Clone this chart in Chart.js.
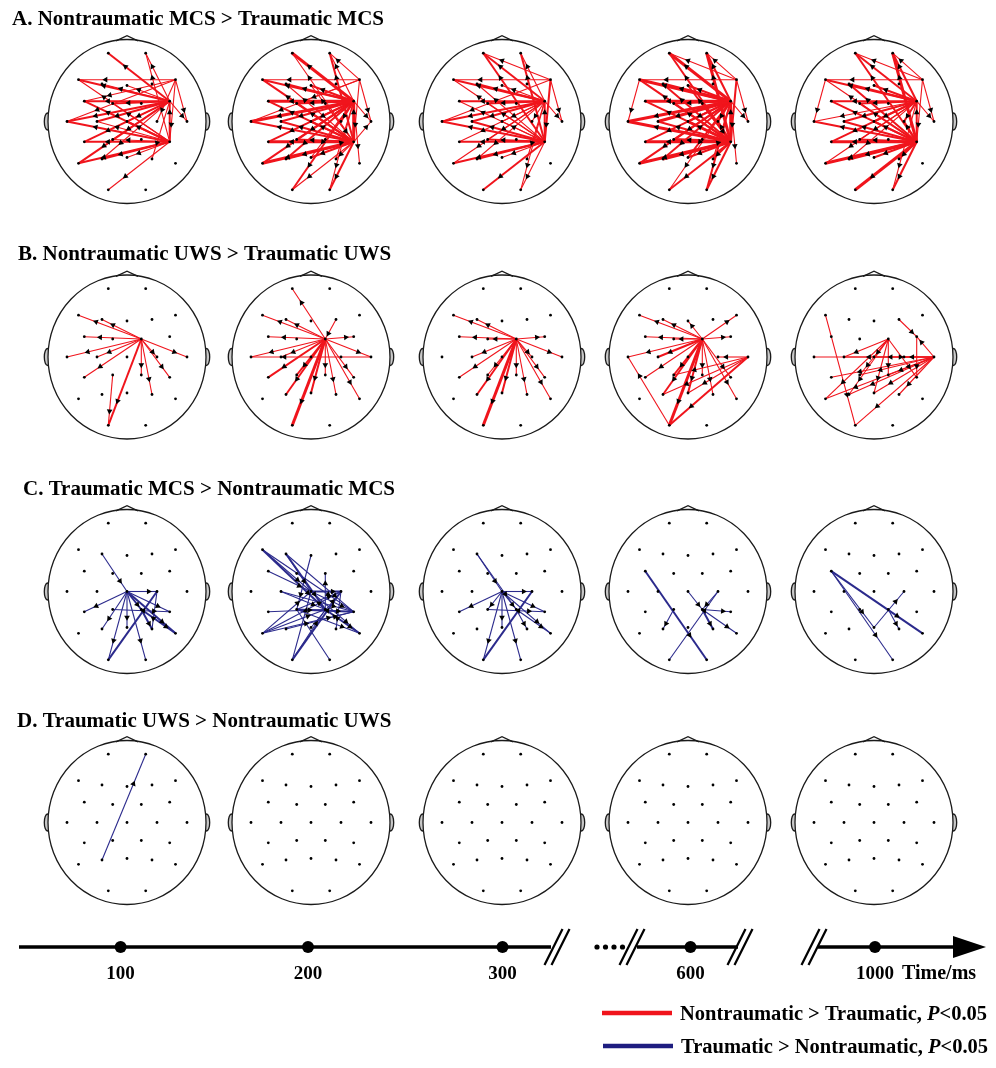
<!DOCTYPE html>
<html>
<head>
<meta charset="utf-8">
<script src="https://cdn.jsdelivr.net/npm/chart.js@4.4.0/dist/chart.umd.min.js"></script>
<style>
  html, body { margin: 0; padding: 0; background: #fff; }
  #wrap { position: relative; width: 996px; height: 1068px; }
</style>
</head>
<body>
<div id="wrap"><canvas id="myChart"></canvas></div>
<script>
// electrode montage, offset from the head centre
var electrodes = ['Fp1','Fp2','F7','F3','Fz','F4','F8','FC3','FC1','FC2','FC4','T3','C3','Cz','C4','T4',
                  'CP3','CP1','CP2','CP4','T5','P3','Pz','P4','T6','O1','O2'];
var elecX = [-18.7, 18.7, -48.5, -25, 0, 25, 48.5, -42.7, -14.3, 14.3, 42.7, -60, -30, 0, 30, 60,
             -42.7, -14.3, 14.3, 42.7, -48.5, -25, 0, 25, 48.5, -18.7, 18.7];
var elecY = [-68.3, -68.3, -41.8, -37.5, -36, -37.5, -41.8, -20.3, -18, -18, -20.3, 0, 0, 0, 0, 0,
             20.3, 18, 18, 20.3, 41.8, 37.5, 36, 37.5, 41.8, 68.3, 68.3];

var panelTitles = ['A. Nontraumatic MCS > Traumatic MCS', 'B. Nontraumatic UWS > Traumatic UWS',
                   'C. Traumatic MCS > Nontraumatic MCS', 'D. Traumatic UWS > Nontraumatic UWS'];
var timeLabels = ['100', '200', '300', '600', '1000'];
var legendLabels = ['Nontraumatic > Traumatic, ', 'Traumatic > Nontraumatic, '];
var pLabel = ['P', '<0.05'];

// significant connections: [from, to, strength 1-3]
var a100 = [['FC4','Fp1',2],['CP4','Fp2',1],['FC4','Fp2',1],['FC4','F7',2],['CP4','F7',1],['F8','F7',1],
  ['FC4','F3',1],['F8','FC3',1],['FC4','FC3',2],['CP4','FC3',2],['FC4','FC1',2],['CP4','FC1',1],['FC4','Fz',1],
  ['FC4','T3',2],['CP4','T3',2],['F8','T3',1],['FC4','C3',2],['CP4','C3',1],['FC4','Cz',1],['CP4','Cz',2],
  ['FC4','CP3',2],['CP4','CP3',2],['FC4','CP1',1],['CP4','CP1',1],['FC4','T5',2],['CP4','T5',2],['CP4','P3',2],
  ['FC4','P3',1],['CP4','Pz',1],['FC4','P4',1],['CP4','O1',1],['F8','T4',1],['FC4','T4',1],['F8','C4',1],
  ['CP4','FC4',2],['F8','CP4',1]];
var a200 = [['FC4','Fp1',3],['CP4','Fp1',1],['CP4','Fp2',2],['FC4','Fp2',1],['F8','Fp2',1],['FC4','F7',2],
  ['CP4','F7',2],['F8','F7',1],['FC4','F3',2],['CP4','F3',1],['FC4','Fz',2],['CP4','Fz',1],['FC4','FC3',3],
  ['CP4','FC3',2],['FC4','FC1',2],['CP4','FC1',2],['F8','FC1',1],['FC4','T3',3],['CP4','T3',2],['F8','T3',1],
  ['FC4','C3',2],['CP4','C3',2],['FC4','Cz',2],['CP4','Cz',2],['FC4','CP3',2],['CP4','CP3',3],['FC4','CP1',2],
  ['CP4','CP1',2],['FC4','T5',2],['CP4','T5',3],['FC4','P3',2],['CP4','P3',2],['CP4','Pz',2],['FC4','Pz',1],
  ['FC4','P4',1],['CP4','P4',1],['FC4','O1',2],['CP4','O1',1],['CP4','O2',2],['FC4','O2',1],['F8','T4',1],
  ['FC4','T4',1],['CP4','T4',1],['FC4','C4',2],['CP4','FC4',3],['FC4','T6',1],['F8','CP4',1],['FC2','CP4',1]];
var a300 = [['FC4','Fp1',2],['CP4','Fp1',2],['F8','Fp1',1],['CP4','Fp2',2],['FC4','Fp2',1],['FC4','F7',2],
  ['CP4','F7',1],['F8','F7',1],['FC4','F3',2],['CP4','F3',1],['FC4','Fz',1],['FC4','FC3',2],['CP4','FC3',1],
  ['FC4','FC1',2],['CP4','FC1',1],['FC4','T3',2],['CP4','T3',2],['F8','T3',1],['FC4','C3',2],['CP4','C3',2],
  ['FC4','Cz',1],['CP4','Cz',1],['FC4','CP3',1],['CP4','CP3',2],['CP4','CP1',2],['FC4','CP1',1],['CP4','T5',2],
  ['FC4','T5',1],['CP4','P3',2],['FC4','P3',1],['CP4','Pz',1],['FC4','P4',1],['CP4','O1',2],['FC4','O2',1],
  ['CP4','O2',1],['F8','T4',1],['FC4','T4',1],['F8','CP4',2],['CP4','FC4',2],['FC4','C4',1]];
var a600 = [['FC4','Fp1',3],['CP4','Fp1',2],['F8','Fp1',1],['CP4','Fp2',3],['FC4','Fp2',2],['F8','Fp2',1],
  ['FC4','F7',3],['CP4','F7',2],['F8','F7',1],['FC4','F3',3],['CP4','F3',2],['FC4','Fz',2],['CP4','Fz',2],
  ['FC4','FC3',3],['CP4','FC3',2],['FC4','FC1',2],['CP4','FC1',2],['FC4','T3',3],['CP4','T3',3],['F7','T3',1],
  ['FC4','C3',3],['CP4','C3',2],['FC4','Cz',2],['CP4','Cz',3],['FC4','CP3',2],['CP4','CP3',3],['FC4','CP1',2],
  ['CP4','CP1',3],['CP4','T5',3],['FC4','T5',2],['CP4','P3',3],['FC4','P3',2],['CP4','Pz',2],['FC4','Pz',2],
  ['CP4','P4',2],['FC4','P4',1],['CP4','O1',2],['FC4','O1',1],['CP4','O2',2],['FC4','O2',2],['F8','T4',1],
  ['FC4','T4',1],['F8','CP4',2],['CP4','FC4',3],['FC4','C4',2],['FC4','T6',1],['CP4','C4',2],['FC2','CP4',2]];
var a1000 = [['FC4','Fp1',2],['CP4','Fp1',2],['F8','Fp1',1],['CP4','Fp2',3],['FC4','Fp2',2],['F8','Fp2',1],
  ['FC4','F7',2],['CP4','F7',1],['F8','F7',1],['FC4','F3',2],['CP4','F3',2],['FC4','Fz',2],['FC4','FC3',2],
  ['CP4','FC3',2],['FC4','FC1',2],['CP4','FC1',2],['FC4','T3',1],['CP4','T3',2],['F7','T3',1],['FC4','C3',2],
  ['CP4','C3',2],['FC4','Cz',2],['CP4','Cz',2],['FC4','CP3',2],['CP4','CP3',3],['CP4','CP1',2],['FC4','CP1',1],
  ['CP4','T5',3],['FC4','T5',1],['CP4','P3',3],['FC4','P3',1],['CP4','Pz',2],['CP4','P4',2],['CP4','O1',3],
  ['FC4','O2',1],['CP4','O2',2],['F8','T4',1],['FC4','T4',1],['F8','CP4',1],['CP4','FC4',2],['FC4','C4',2],
  ['CP4','C4',2]];

var b100 = [['FC2','F7',1],['FC2','F3',1],['FC2','FC3',1],['FC2','T3',1],['FC2','C3',1],['FC2','CP3',1],
  ['FC2','O1',2],['CP1','O1',1],['FC2','CP2',1],['FC2','P4',1],['FC2','CP4',1],['FC2','T4',1],['FC2','C4',1]];
var b200 = [['FC2','Fp1',1],['FC2','F7',1],['FC2','F3',1],['FC2','FC3',1],['FC2','T3',1],['FC2','C3',1],
  ['FC2','CP3',2],['FC2','P3',2],['FC2','O1',3],['FC2','Pz',2],['FC2','CP2',1],['FC2','P4',1],['FC2','CP4',1],
  ['FC2','T6',1],['FC2','T4',1],['FC2','FC4',1],['F4','FC2',1],['T4','T3',1],['FC2','CP1',2]];
var b300 = [['FC2','F7',1],['FC2','F3',1],['FC2','FC3',1],['FC2','FC1',1],['FC2','FC4',1],['FC2','T4',1],
  ['FC2','C3',1],['FC2','CP3',1],['FC2','CP1',1],['FC2','P3',2],['FC2','O1',3],['FC2','Pz',2],['FC2','CP2',1],
  ['FC2','P4',1],['FC2','CP4',1],['FC2','T6',1],['FC2','C4',1]];
var b600 = [['FC2','F7',1],['FC2','F3',1],['FC2','FC3',1],['FC2','FC1',1],['FC2','Fz',1],['FC2','F8',1],
  ['FC2','FC4',1],['FC2','T3',1],['FC2','C3',2],['FC2','CP3',1],['FC2','P3',2],['FC2','O1',3],['FC2','CP1',2],
  ['FC2','Pz',2],['FC2','CP2',1],['FC2','P4',1],['FC2','CP4',1],['FC2','T6',1],['T4','CP1',1],['T4','Pz',1],
  ['T4','O1',2],['T4','C4',1],['O1','T3',1],['T4','P3',1]];
var b1000 = [['F7','O1',1],['T3','T4',1],['T4','C3',1],['T4','CP3',1],['T4','T5',1],['T4','CP1',1],
  ['T4','Pz',1],['T4','P4',1],['T4','CP2',1],['T4','Cz',1],['T4','C4',1],['T4','FC4',1],['T4','O1',1],
  ['T4','P3',1],['FC2','CP1',1],['FC2','CP2',1],['FC2','Pz',1],['FC2','P3',1],['FC2','C3',1],['FC2','T5',1],
  ['FC2','Cz',1],['F4','FC4',1],['FC4','CP4',1],['FC2','CP4',1]];

var c100 = [['F3','Cz',1],['Cz','C4',1],['Cz','CP3',1],['Cz','CP4',1],['Cz','T6',2],['Cz','O1',1],
  ['Cz','O2',1],['Cz','Pz',1],['Cz','CP2',2],['CP1','CP4',1],['CP2','T6',2],['O1','C4',2],['C4','P4',1],
  ['CP2','P4',2],['Cz','P3',1]];
var c200 = [['F7','Cz',1],['F7','CP2',2],['F7','CP4',1],['F3','CP2',2],['F3','CP4',1],['F3','Cz',1],
  ['Fz','CP1',1],['CP2','FC2',1],['FC3','Cz',1],['C3','CP2',1],['Cz','C4',2],['Cz','CP4',1],['CP3','CP2',1],
  ['T5','CP2',1],['T5','CP4',1],['T5','Cz',1],['P3','CP4',1],['O1','C4',2],['O1','Cz',1],['O1','CP2',1],
  ['O2','CP1',1],['CP1','CP4',2],['CP1','T6',1],['Cz','T6',1],['C4','P4',1],['CP2','T6',2],['Pz','C4',1],
  ['CP1','C4',1],['C3','CP4',1],['T5','C4',1]];
var c300 = [['F3','CP2',1],['F3','Cz',1],['Cz','C4',1],['Cz','CP3',1],['Cz','O1',1],['Cz','O2',1],
  ['Cz','Pz',1],['Cz','T6',1],['Cz','CP4',1],['CP1','CP4',1],['CP2','T6',1],['CP2','P4',1],['O1','C4',2],
  ['Cz','CP1',1],['Cz','CP2',1]];
var c600 = [['FC3','O2',2],['Cz','CP2',1],['O1','C4',1],['CP2','CP4',1],['CP2','T6',1],['CP2','P4',2],
  ['CP1','P3',1],['C4','CP2',1]];
var c1000 = [['FC3','O2',1],['FC3','T6',2],['FC3','Pz',1],['Pz','C4',1],['CP2','P4',1]];

var d100 = [['P3','Fp2',1]];
var d200 = [], d300 = [], d600 = [], d1000 = [];

var panels = [[a100, a200, a300, a600, a1000], [b100, b200, b300, b600, b1000],
              [c100, c200, c300, c600, c1000], [d100, d200, d300, d600, d1000]];
var panelColors = ['#f0141c', '#f0141c', '#2b2a8c', '#2b2a8c'];

// layout of the figure (canvas units)
var colX = [127, 311, 502, 688, 874];
var rowY = [121.5, 357, 591.5, 822.5];
var headRx = 79, headRy = 82;
var titlePos = [[12, 25], [18, 260], [23, 495], [17, 727]];
var timeY = 947;
var timeX = [120.6, 308, 502.5, 690.5, 875];
var strokeW = [0, 1.1, 2, 3];

function pos(r, h, name) {
  var i = electrodes.indexOf(name);
  return { x: colX[h] + elecX[i], y: rowY[r] + elecY[i] };
}

var datasets = [];
for (var r = 0; r < panels.length; r++) {
  for (var h = 0; h < panels[r].length; h++) {
    var dots = [];
    for (var k = 0; k < electrodes.length; k++) dots.push(pos(r, h, electrodes[k]));
    datasets.push({ data: dots, pointRadius: 1.4, pointBackgroundColor: '#000', pointBorderWidth: 0, order: 0 });

    var arrows = [], rot = [];
    panels[r][h].forEach(function(e) {
      var a = pos(r, h, e[0]), b = pos(r, h, e[1]);
      datasets.push({ data: [a, b], showLine: true, borderColor: panelColors[r], borderWidth: strokeW[e[2]],
                      pointRadius: 0, order: 3 - e[2] / 10 });
      arrows.push({ x: a.x + (b.x - a.x) * 0.72, y: a.y + (b.y - a.y) * 0.72 });
      rot.push(Math.atan2(b.x - a.x, -(b.y - a.y)) * 180 / Math.PI);
    });
    if (arrows.length) {
      datasets.push({ data: arrows, pointStyle: 'triangle', pointRotation: rot, pointRadius: 3.3,
                      pointBackgroundColor: '#000', pointBorderWidth: 0, order: 1 });
    }
  }
}
datasets.push({ data: timeX.map(function(x) { return { x: x, y: timeY }; }), pointRadius: 6,
                pointBackgroundColor: '#000', pointBorderWidth: 0, order: 0 });

var decor = {
  id: 'decor',
  beforeDatasetsDraw: function(chart) {
    var ctx = chart.ctx, xs = chart.scales.x, ys = chart.scales.y;
    ctx.save();
    ctx.strokeStyle = '#1a1a1a';
    ctx.lineWidth = 1.3;
    for (var r = 0; r < rowY.length; r++) {
      for (var h = 0; h < colX.length; h++) {
        var cx = xs.getPixelForValue(colX[h]), cy = ys.getPixelForValue(rowY[r]);
        var rx = xs.getPixelForValue(colX[h] + headRx) - cx;
        var ry = ys.getPixelForValue(rowY[r] + headRy) - cy;
        ctx.fillStyle = '#c8c8c8';
        [-1, 1].forEach(function(s) {
          ctx.beginPath();
          ctx.ellipse(cx + s * (rx + 0.5), cy, 3.2, 8.5, 0, 0, Math.PI * 2);
          ctx.fill();
          ctx.stroke();
        });
        ctx.fillStyle = '#fff';
        ctx.beginPath();
        ctx.ellipse(cx, cy, rx, ry, 0, 0, Math.PI * 2);
        ctx.fill();
        ctx.stroke();
        ctx.beginPath();
        ctx.moveTo(cx - 11, cy - ry + 1.3);
        ctx.lineTo(cx, cy - ry - 3.8);
        ctx.lineTo(cx + 11, cy - ry + 1.3);
        ctx.stroke();
      }
    }

    // time axis with breaks
    var ty = ys.getPixelForValue(timeY);
    ctx.strokeStyle = '#000';
    ctx.fillStyle = '#000';
    ctx.lineWidth = 3.5;
    [[19, 551], [637, 738], [818, 960]].forEach(function(s) {
      ctx.beginPath();
      ctx.moveTo(xs.getPixelForValue(s[0]), ty);
      ctx.lineTo(xs.getPixelForValue(s[1]), ty);
      ctx.stroke();
    });
    ctx.beginPath();
    ctx.moveTo(xs.getPixelForValue(953), ty - 11);
    ctx.lineTo(xs.getPixelForValue(986), ty);
    ctx.lineTo(xs.getPixelForValue(953), ty + 11);
    ctx.closePath();
    ctx.fill();
    ctx.lineWidth = 2.2;
    [557, 632, 740, 814].forEach(function(bx) {
      [-3.5, 3.5].forEach(function(o) {
        var px = xs.getPixelForValue(bx + o);
        ctx.beginPath();
        ctx.moveTo(px - 9, ty + 18);
        ctx.lineTo(px + 9, ty - 18);
        ctx.stroke();
      });
    });
    [597, 605.5, 614, 622.5].forEach(function(dx) {
      ctx.beginPath();
      ctx.arc(xs.getPixelForValue(dx), ty, 2.6, 0, Math.PI * 2);
      ctx.fill();
    });
    ctx.restore();
  },
  afterDatasetsDraw: function(chart) {
    var ctx = chart.ctx, xs = chart.scales.x, ys = chart.scales.y;
    ctx.save();
    ctx.fillStyle = '#000';
    ctx.textBaseline = 'alphabetic';
    ctx.font = 'bold 21px "Liberation Serif"';
    panelTitles.forEach(function(t, i) {
      ctx.fillText(t, xs.getPixelForValue(titlePos[i][0]), ys.getPixelForValue(titlePos[i][1]));
    });

    ctx.font = 'bold 19px "Liberation Serif"';
    ctx.textAlign = 'center';
    timeLabels.forEach(function(t, i) {
      ctx.fillText(t, xs.getPixelForValue(timeX[i]), ys.getPixelForValue(979));
    });
    ctx.textAlign = 'left';
    ctx.font = 'bold 20px "Liberation Serif"';
    ctx.fillText('Time/ms', xs.getPixelForValue(902), ys.getPixelForValue(979));

    // legend
    var legY = [1013, 1046], legX = [602, 603], colors = ['#f0141c', '#1e1d80'];
    for (var i = 0; i < 2; i++) {
      var y = ys.getPixelForValue(legY[i]);
      ctx.strokeStyle = colors[i];
      ctx.lineWidth = 4.5;
      ctx.beginPath();
      ctx.moveTo(xs.getPixelForValue(legX[i]), y);
      ctx.lineTo(xs.getPixelForValue(legX[i] + 70), y);
      ctx.stroke();
      var x = xs.getPixelForValue(legX[i] + 78);
      ctx.font = 'bold 20.5px "Liberation Serif"';
      ctx.fillText(legendLabels[i], x, y + 7);
      x += ctx.measureText(legendLabels[i]).width;
      ctx.font = 'italic bold 20.5px "Liberation Serif"';
      ctx.fillText(pLabel[0], x, y + 7);
      x += ctx.measureText(pLabel[0]).width;
      ctx.font = 'bold 20.5px "Liberation Serif"';
      ctx.fillText(pLabel[1], x, y + 7);
    }
    ctx.restore();
  }
};

new Chart(document.getElementById('myChart'), {
  type: 'scatter',
  data: { datasets: datasets },
  options: {
    responsive: true,
    maintainAspectRatio: false,
    animation: false,
    events: [],
    layout: { padding: 0, autoPadding: false },
    scales: {
      x: { type: 'linear', min: 0, max: 996, display: false },
      y: { type: 'linear', min: 0, max: 1068, reverse: true, display: false }
    },
    plugins: { legend: { display: false }, tooltip: { enabled: false } }
  },
  plugins: [decor]
});
</script>
</body>
</html>
